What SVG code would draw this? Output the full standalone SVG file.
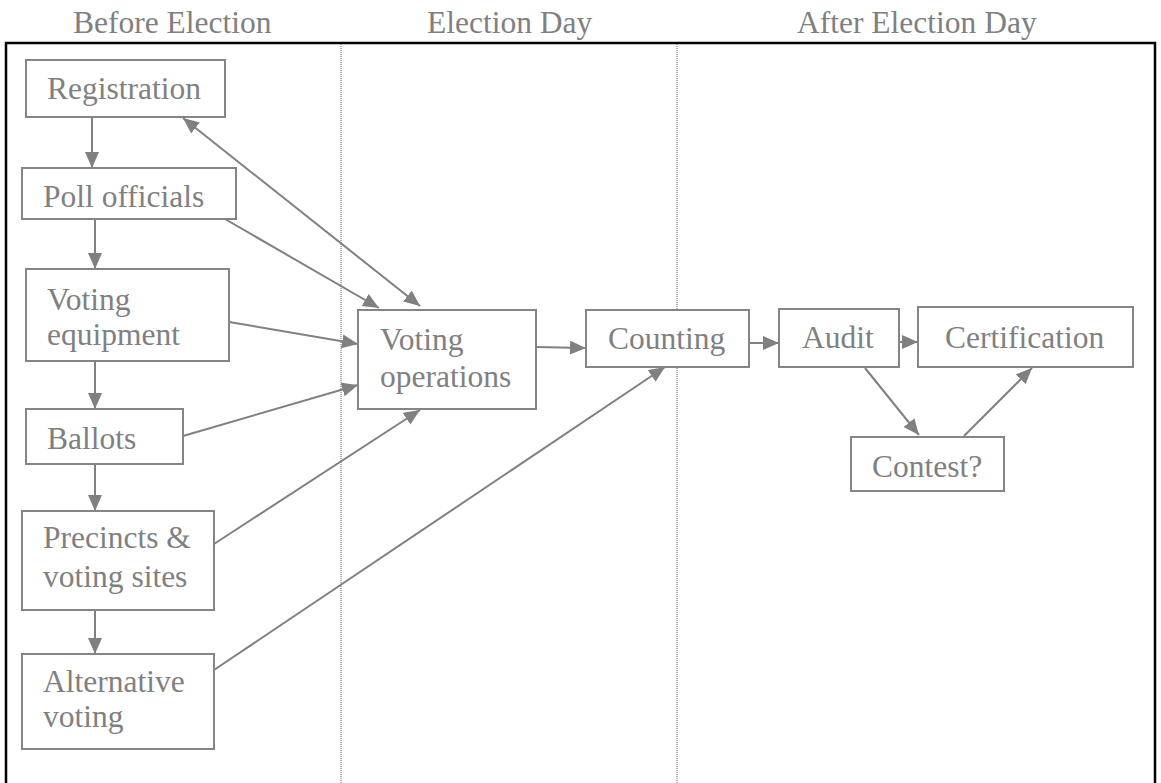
<svg xmlns="http://www.w3.org/2000/svg" width="1161" height="783" viewBox="0 0 1161 783">
<style>
.box{fill:#fff;stroke:#858585;stroke-width:2}
.t{font-family:'Liberation Serif',serif;font-size:31.5px;fill:#808080}
.c{fill:none;stroke:#808080;stroke-width:2}
.div{stroke:#7a7a7a;stroke-width:1.2;stroke-dasharray:1 1}
</style>
<defs>
<marker id="ah" markerUnits="userSpaceOnUse" markerWidth="17" markerHeight="15" refX="16" refY="7" orient="auto-start-reverse">
<path d="M0,0 L16,7 L0,14 z" fill="#808080"/>
</marker>
</defs>
<rect width="1161" height="783" fill="#fff"/>
<g id="titles">
<text class="t" x="73" y="33">Before Election</text>
<text class="t" x="427" y="33">Election Day</text>
<text class="t" x="797" y="33">After Election Day</text>
</g>
<rect x="6" y="43" width="1149" height="800" fill="none" stroke="#000" stroke-width="2.5"/>
<line class="div" x1="341" y1="44" x2="341" y2="783"/>
<line class="div" x1="677" y1="44" x2="677" y2="783"/>
<g id="connectors">
<line class="c" x1="92" y1="117" x2="92" y2="168" marker-end="url(#ah)"/>
<line class="c" x1="95" y1="219" x2="95" y2="269" marker-end="url(#ah)"/>
<line class="c" x1="95" y1="361" x2="95" y2="409" marker-end="url(#ah)"/>
<line class="c" x1="95" y1="464" x2="95" y2="511" marker-end="url(#ah)"/>
<line class="c" x1="95" y1="610" x2="95" y2="654" marker-end="url(#ah)"/>
<line class="c" x1="183" y1="118" x2="420" y2="306" marker-start="url(#ah)" marker-end="url(#ah)"/>
<line class="c" x1="225" y1="219" x2="379" y2="308" marker-end="url(#ah)"/>
<line class="c" x1="229" y1="322" x2="358" y2="344" marker-end="url(#ah)"/>
<line class="c" x1="183" y1="436" x2="358" y2="385" marker-end="url(#ah)"/>
<line class="c" x1="214" y1="544" x2="420" y2="410" marker-end="url(#ah)"/>
<line class="c" x1="214" y1="670" x2="665" y2="367" marker-end="url(#ah)"/>
<line class="c" x1="536" y1="347" x2="586" y2="348" marker-end="url(#ah)"/>
<line class="c" x1="736" y1="343" x2="779" y2="343" marker-end="url(#ah)"/>
<line class="c" x1="900" y1="342" x2="918" y2="342" marker-end="url(#ah)"/>
<line class="c" x1="865" y1="368" x2="919" y2="435" marker-end="url(#ah)"/>
<line class="c" x1="964" y1="436" x2="1032" y2="368" marker-end="url(#ah)"/>
</g>
<g id="registration"><rect class="box" x="26" y="60" width="199" height="57"/><text class="t" x="47" y="99">Registration</text></g>
<g id="poll-officials"><rect class="box" x="22" y="168" width="214" height="51"/><text class="t" x="43" y="207">Poll officials</text></g>
<g id="voting-equipment"><rect class="box" x="26" y="269" width="203" height="92"/><text class="t" x="47" y="310">Voting</text><text class="t" x="47" y="345">equipment</text></g>
<g id="ballots"><rect class="box" x="26" y="409" width="157" height="55"/><text class="t" x="47" y="449">Ballots</text></g>
<g id="precincts"><rect class="box" x="22" y="511" width="192" height="99"/><text class="t" x="43" y="548">Precincts &amp;</text><text class="t" x="43" y="587">voting sites</text></g>
<g id="alternative-voting"><rect class="box" x="22" y="654" width="192" height="95"/><text class="t" x="43" y="692">Alternative</text><text class="t" x="43" y="727">voting</text></g>
<g id="voting-operations"><rect class="box" x="358" y="310" width="178" height="99"/><text class="t" x="380" y="350">Voting</text><text class="t" x="380" y="387">operations</text></g>
<g id="counting"><rect class="box" x="586" y="310" width="163" height="57"/><text class="t" x="608" y="349">Counting</text></g>
<g id="audit"><rect class="box" x="779" y="309" width="120" height="58"/><text class="t" x="802" y="348">Audit</text></g>
<g id="certification"><rect class="box" x="918" y="307" width="215" height="60"/><text class="t" x="945" y="348">Certification</text></g>
<g id="contest"><rect class="box" x="851" y="437" width="153" height="54"/><text class="t" x="872" y="477">Contest?</text></g>
</svg>
